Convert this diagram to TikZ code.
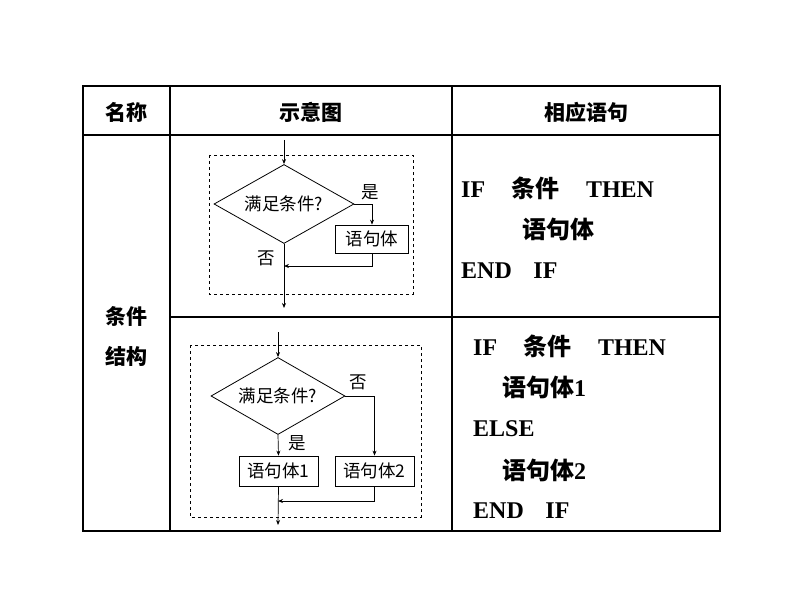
\documentclass[tikz,border=0pt]{standalone}
\usepackage{fontspec}
\setmainfont{Liberation Serif}
\newfontfamily\cjk{Noto Sans CJK SC}
\usetikzlibrary{shapes.geometric,arrows.meta}
\begin{document}
\begin{tikzpicture}[x=1pt,y=-1pt,
  grid/.style={line width=1.2pt},
  dbox/.style={draw,dashed,line width=0.7pt},
  flow/.style={line width=0.7pt},
  arr/.style={flow,-{Stealth[length=5pt,width=4pt]}},
  pbox/.style={draw,line width=0.8pt,inner sep=0pt,font=\cjk\fontsize{17.5}{17.5}\selectfont},
  dia/.style={draw,diamond,line width=0.8pt,inner sep=0pt,aspect=1.75,font=\cjk\fontsize{17.5}{17.5}\selectfont},
  lab/.style={font=\cjk\fontsize{17.5}{17.5}\selectfont,inner sep=0pt},
  hd/.style={font=\cjk\bfseries\fontsize{21}{21}\selectfont,inner sep=0pt},
  code/.style={anchor=west,inner sep=0pt,font=\bfseries\fontsize{24}{24}\selectfont}]
\useasboundingbox (0,0) rectangle (794,596);
\fill[white] (0,0) rectangle (794,596);
% table
\draw[grid] (83,86) rectangle (720,531);
\draw[grid] (83,135) -- (720,135);
\draw[grid] (170,317) -- (720,317);
\draw[grid] (170,86) -- (170,531);
\draw[grid] (452,86) -- (452,531);
\node[hd] (h1) at (126,112) {名称};
\node[hd] (h2) at (311,112) {示意图};
\node[hd] (h3) at (586,112) {相应语句};
\node[hd] (c1) at (126,316) {条件};
\node[hd] (c2) at (126,356) {结构};
% flowchart 1
\draw[dbox] (209,155) rectangle (413,294);
\coordinate (i1) at (284,140);
\node[dia,minimum width=140pt,minimum height=79pt] (d1) at (284,204) {满足条件?};
\node[pbox,minimum width=73pt,minimum height=28pt] (b1) at (372,239) {语句体};
\draw[arr] (i1) -- (d1.north);
\draw[arr] (d1.east) -| (b1.north);
\coordinate (j1) at (284,266);
\draw[arr] (b1.south) |- (j1);
\coordinate (o1) at (284,308);
\draw[arr] (d1.south) -- (o1);
\node[lab] (y1) at (370,192) {是};
\node[lab] (n1) at (266,258) {否};
% flowchart 2
\draw[dbox] (190,345) rectangle (421,517);
\coordinate (i2) at (278,332);
\node[dia,minimum width=134pt,minimum height=77pt] (d2) at (278,396) {满足条件?};
\node[pbox,minimum width=79pt,minimum height=30pt] (b21) at (278.5,471) {语句体1};
\node[pbox,minimum width=79pt,minimum height=30pt] (b22) at (374.5,471) {语句体2};
\draw[arr] (i2) -- (d2.north);
\draw[arr] (d2.east) -| (b22.north);
\draw[arr] (d2.south) -- (b21.north);
\coordinate (j2) at (278,501);
\draw[arr] (b22.south) |- (j2);
\coordinate (o2) at (278,525);
\draw[arr] (b21.south) -- (o2);
\node[lab] (n2) at (358,382) {否};
\node[lab] (y2) at (297,443) {是};
% code
\node[code] (r1) at (461,188) {IF\hspace{1.1em}{\cjk 条件}\hspace{1.1em}THEN};
\node[code] (r2) at (522,229) {\cjk 语句体};
\node[code] (r3) at (461,271) {END\hspace{0.9em}IF};
\node[code] (s1) at (473,346) {IF\hspace{1.1em}{\cjk 条件}\hspace{1.1em}THEN};
\node[code] (s2) at (502,387) {{\cjk 语句体}1};
\node[code] (s3) at (473,429) {ELSE};
\node[code] (s4) at (502,470) {{\cjk 语句体}2};
\node[code] (s5) at (473,511) {END\hspace{0.9em}IF};
\end{tikzpicture}
\end{document}
